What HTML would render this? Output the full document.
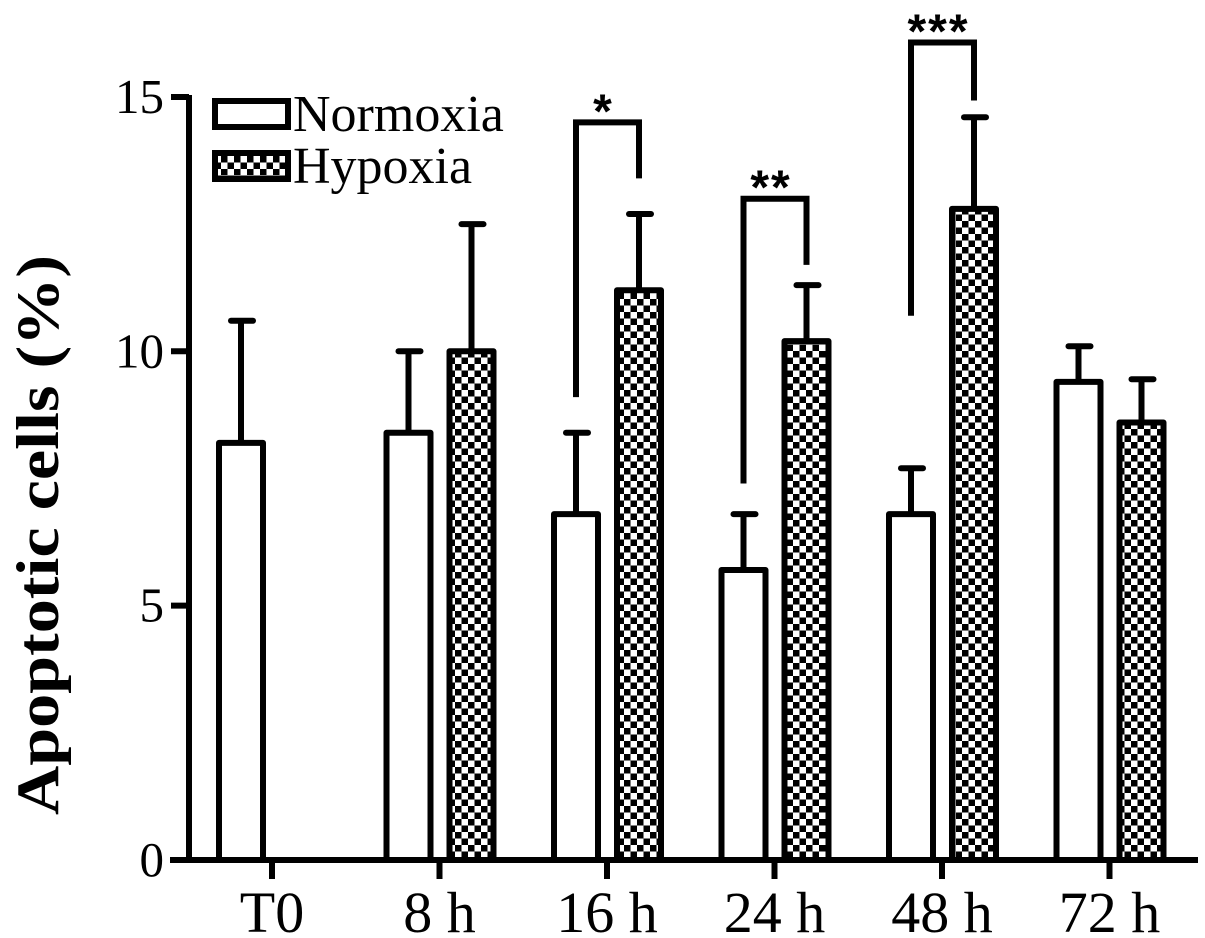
<!DOCTYPE html>
<html><head><meta charset="utf-8">
<style>
html,body{margin:0;padding:0;background:#fff;}
svg{display:block;}
</style></head>
<body>
<svg id="chart" width="1205" height="938" xmlns="http://www.w3.org/2000/svg">
<defs>
<pattern id="checker" patternUnits="userSpaceOnUse" width="13" height="13">
<rect width="13" height="13" fill="#fff"/>
<rect width="6.5" height="6.5" fill="#000"/>
<rect x="6.5" y="6.5" width="6.5" height="6.5" fill="#000"/>
</pattern>
</defs>
<g id="plot"></g>
</svg>
<script>
const categories = ["T0","8 h","16 h","24 h","48 h","72 h"];
const normoxia = [8.2, 8.4, 6.8, 5.7, 6.8, 9.4];
const normoxiaErr = [2.4, 1.6, 1.6, 1.1, 0.9, 0.7];
const hypoxia = [null, 10.0, 11.2, 10.2, 12.8, 8.6];
const hypoxiaErr = [null, 2.5, 1.5, 1.1, 1.8, 0.85];
const yTicks = [0, 5, 10, 15];
const sigGroups = [2, 3, 4];
const sigLabels = ["*", "**", "***"];
const sigLeftVal = [9.1, 7.4, 10.7];
const sigTopVal = [14.5, 13.0, 16.07];
const sigRightVal = [13.4, 11.7, 14.93];

const NS = "http://www.w3.org/2000/svg";
const g = document.getElementById("plot");
const y0 = 860, pxPerUnit = 50.87;
function yScale(v){ return y0 - v*pxPerUnit; }
function groupCenter(i){ return 272 + i*167.5; }
const barW = 44;
function barCenter(i, isHyp){ return groupCenter(i) + (isHyp ? 32 : -31); }
function mk(tag, attrs){ const e=document.createElementNS(NS,tag); for(const k in attrs) e.setAttribute(k,attrs[k]); g.appendChild(e); return e; }

function drawBar(i, v, err, isHyp){
  const cx = barCenter(i, isHyp);
  const bx = cx - barW/2;
  const top = yScale(v);
  const eTop = yScale(v+err);
  const l = mk("line",{x1:cx,y1:top,x2:cx,y2:eTop,stroke:"#000","stroke-width":6});
  
  
  const cap = mk("line",{x1:cx-10,y1:eTop,x2:cx+12,y2:eTop,stroke:"#000","stroke-width":6,"stroke-linecap":"round"});
  
  
  const r = mk("rect",{x:bx,y:top,width:barW,height:y0-top,fill:isHyp?"url(#checker)":"#fff",stroke:"#000","stroke-width":6,"stroke-linejoin":"round"});
  
  
}
categories.forEach((c,i)=>{
  drawBar(i, normoxia[i], normoxiaErr[i], false);
  if(hypoxia[i]!==null) drawBar(i, hypoxia[i], hypoxiaErr[i], true);
});

// axes
const ya = mk("line",{x1:189,y1:95,x2:189,y2:863,stroke:"#000","stroke-width":6});


const xa = mk("line",{x1:170,y1:860,x2:1198,y2:860,stroke:"#000","stroke-width":6});


yTicks.forEach(t=>{
  const y = yScale(t);
  const tk = mk("line",{x1:171,y1:y,x2:189,y2:y,stroke:"#000","stroke-width":6});
  
  
  const tx = mk("text",{x:164,y:y+16,"text-anchor":"end","font-family":"Liberation Serif, serif","font-size":49});
  tx.textContent = t;
  
  
});
categories.forEach((c,i)=>{
  const x = groupCenter(i);
  const tk = mk("line",{x1:x,y1:860,x2:x,y2:879,stroke:"#000","stroke-width":6});
  
  
  const tx = mk("text",{x:x,y:932,"text-anchor":"middle","font-family":"Liberation Serif, serif","font-size":58});
  tx.textContent = c;
  
  
});
const yt = mk("text",{x:0,y:0,transform:"translate(58,535) rotate(-90)","text-anchor":"middle","font-family":"Liberation Serif, serif","font-size":60,"font-weight":"bold",textLength:560,lengthAdjust:"spacingAndGlyphs"});
yt.textContent = "Apoptotic cells (%)";



// significance
sigGroups.forEach((gi,k)=>{
  const lx = barCenter(gi,false), rx = barCenter(gi,true);
  const p = mk("path",{d:`M${lx},${yScale(sigLeftVal[k])} L${lx},${yScale(sigTopVal[k])} L${rx},${yScale(sigTopVal[k])} L${rx},${yScale(sigRightVal[k])}`,fill:"none",stroke:"#000","stroke-width":6});
  
  
  const s = mk("text",{x:(lx+rx)/2 - 4,y:yScale(sigTopVal[k])+5,"text-anchor":"middle","font-family":"Liberation Sans, sans-serif","font-size":48,"font-weight":"bold","letter-spacing":"2"});
  s.textContent = sigLabels[k];
  
  
});

// legend
const legendNames = ["Normoxia","Hypoxia"];
legendNames.forEach((n,i)=>{
  const y = 101 + i*52;
  const r = mk("rect",{x:215,y:y,width:73,height:26,fill:i?"url(#checker)":"#fff",stroke:"#000","stroke-width":6});
  
  
  const t = mk("text",{x:293,y:y+30,"font-family":"Liberation Serif, serif","font-size":52});
  t.textContent = n;
  
  
});
</script>
</body></html>
